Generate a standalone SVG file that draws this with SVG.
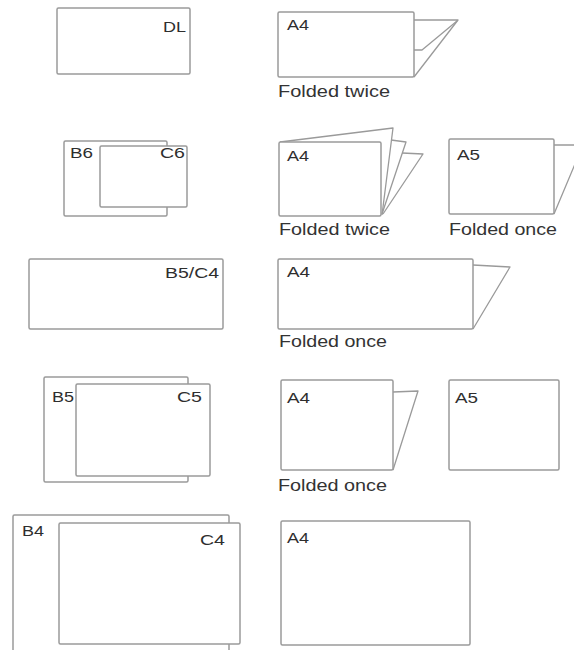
<svg xmlns="http://www.w3.org/2000/svg" width="574" height="650" viewBox="0 0 574 650">
  <style>
    .sheet { fill: #ffffff; stroke: #9a9a9a; stroke-width: 1.5; }
    .fold { fill: none; stroke: #9a9a9a; stroke-width: 1.3; stroke-linejoin: round; }
    .lbl { font-family: "Liberation Sans", Arial, sans-serif; font-size: 14px; fill: #2e2e2e; }
    .cap { font-family: "Liberation Sans", Arial, sans-serif; font-size: 16px; fill: #333333; }
  </style>
  <rect width="574" height="650" fill="#ffffff"/>

  <!-- Row 1 -->
  <g id="dl">
    <rect class="sheet" x="57" y="8" width="133" height="66" rx="1.5"/>
    <text class="lbl" x="186" y="32" text-anchor="end" textLength="23" lengthAdjust="spacingAndGlyphs">DL</text>
  </g>
  <g id="a4-folded-twice-1">
    <polyline class="fold" points="414,20 458,20 414,77"/>
    <polyline class="fold" points="414,50 422,50 457,21"/>
    <rect class="sheet" x="278" y="12" width="136" height="65" rx="1.5"/>
    <text class="lbl" x="287" y="30" textLength="22" lengthAdjust="spacingAndGlyphs">A4</text>
    <text class="cap" x="278" y="97" textLength="112" lengthAdjust="spacingAndGlyphs">Folded twice</text>
  </g>

  <!-- Row 2 -->
  <g id="b6-c6">
    <rect class="sheet" x="64" y="141" width="103" height="75" rx="1.5"/>
    <rect class="sheet" x="100" y="146" width="87" height="61" rx="1.5"/>
    <text class="lbl" x="70" y="158" textLength="23" lengthAdjust="spacingAndGlyphs">B6</text>
    <text class="lbl" x="185" y="158" text-anchor="end" textLength="25" lengthAdjust="spacingAndGlyphs">C6</text>
  </g>
  <g id="a4-folded-twice-2">
    <polyline class="fold" points="402,153 423,154 383,214"/>
    <polyline class="fold" points="391,140 406,142 382,214"/>
    <polyline class="fold" points="280,142 393,128 382,215"/>
    <rect class="sheet" x="279" y="142" width="102" height="74" rx="1.5"/>
    <text class="lbl" x="287" y="161" textLength="22" lengthAdjust="spacingAndGlyphs">A4</text>
    <text class="cap" x="279" y="235" textLength="111" lengthAdjust="spacingAndGlyphs">Folded twice</text>
  </g>
  <g id="a5-folded-once">
    <polyline class="fold" points="554,145 583,145 554,214"/>
    <rect class="sheet" x="449" y="139" width="105" height="75" rx="1.5"/>
    <text class="lbl" x="457" y="160" textLength="23" lengthAdjust="spacingAndGlyphs">A5</text>
    <text class="cap" x="449" y="235" textLength="108" lengthAdjust="spacingAndGlyphs">Folded once</text>
  </g>

  <!-- Row 3 -->
  <g id="b5-c4">
    <rect class="sheet" x="29" y="259" width="194" height="70" rx="1.5"/>
    <text class="lbl" x="219" y="278" text-anchor="end" textLength="54" lengthAdjust="spacingAndGlyphs">B5/C4</text>
  </g>
  <g id="a4-folded-once-3">
    <polyline class="fold" points="473,265 510,267 473,329"/>
    <rect class="sheet" x="278" y="259" width="195" height="70" rx="1.5"/>
    <text class="lbl" x="287" y="277" textLength="23" lengthAdjust="spacingAndGlyphs">A4</text>
    <text class="cap" x="279" y="347" textLength="108" lengthAdjust="spacingAndGlyphs">Folded once</text>
  </g>

  <!-- Row 4 -->
  <g id="b5-c5">
    <rect class="sheet" x="44" y="377" width="144" height="105" rx="1.5"/>
    <rect class="sheet" x="76" y="384" width="134" height="92" rx="1.5"/>
    <text class="lbl" x="52" y="402" textLength="22" lengthAdjust="spacingAndGlyphs">B5</text>
    <text class="lbl" x="202" y="402" text-anchor="end" textLength="25" lengthAdjust="spacingAndGlyphs">C5</text>
  </g>
  <g id="a4-folded-once-4">
    <polyline class="fold" points="393,392 418,391 393,470"/>
    <rect class="sheet" x="281" y="380" width="112" height="90" rx="1.5"/>
    <text class="lbl" x="287" y="403" textLength="23" lengthAdjust="spacingAndGlyphs">A4</text>
    <text class="cap" x="278" y="491" textLength="109" lengthAdjust="spacingAndGlyphs">Folded once</text>
  </g>
  <g id="a5">
    <rect class="sheet" x="449" y="380" width="110" height="90" rx="1.5"/>
    <text class="lbl" x="455" y="403" textLength="23" lengthAdjust="spacingAndGlyphs">A5</text>
  </g>

  <!-- Row 5 -->
  <g id="b4-c4">
    <rect class="sheet" x="13" y="515" width="216" height="150" rx="1.5"/>
    <rect class="sheet" x="59" y="523" width="181" height="121" rx="1.5"/>
    <text class="lbl" x="22" y="536" textLength="22" lengthAdjust="spacingAndGlyphs">B4</text>
    <text class="lbl" x="225" y="545" text-anchor="end" textLength="25" lengthAdjust="spacingAndGlyphs">C4</text>
  </g>
  <g id="a4">
    <rect class="sheet" x="281" y="521" width="189" height="124" rx="1.5"/>
    <text class="lbl" x="287" y="543" textLength="22" lengthAdjust="spacingAndGlyphs">A4</text>
  </g>

  <g id="connectors"/>
</svg>
